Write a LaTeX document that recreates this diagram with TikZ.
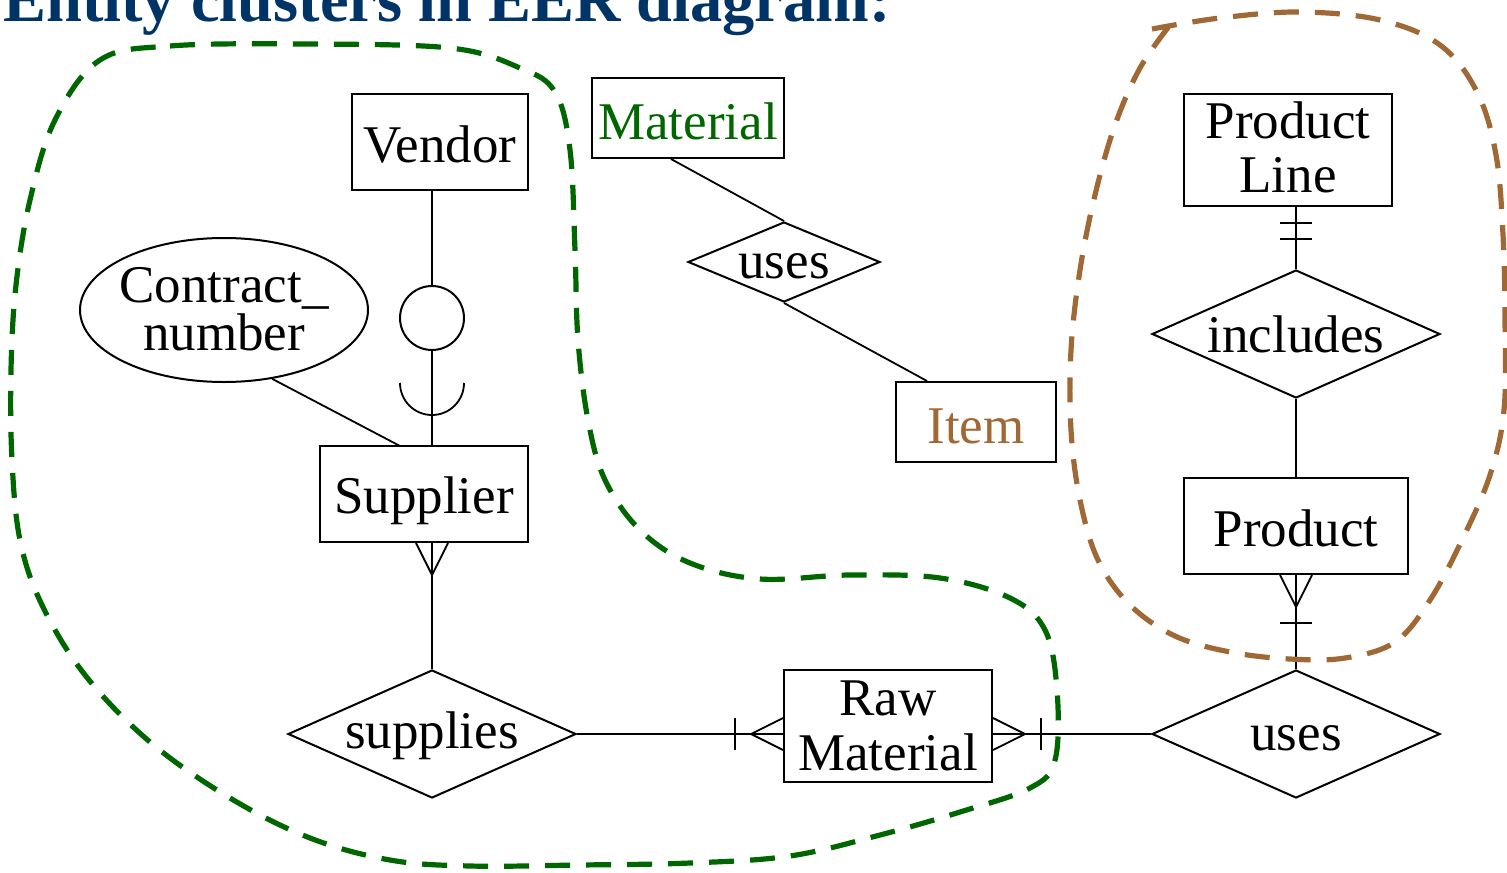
\documentclass[tikz,border=0pt]{standalone}
\usepackage{fontspec}
\setmainfont{Liberation Serif}
\usetikzlibrary{shapes.geometric,calc}
\definecolor{titleblue}{RGB}{0,51,102}
\definecolor{cgreen}{RGB}{0,102,0}
\definecolor{cbrown}{RGB}{160,104,52}
\begin{document}
\begin{tikzpicture}[x=0.5pt,y=-0.5pt,
  ent/.style={draw, line width=1pt, inner sep=0pt},
  rel/.style={draw, diamond, line width=1pt, inner sep=0pt},
  lbl/.style={anchor=base, inner sep=0pt, font=\fontsize{26.5}{26.5}\selectfont},
  conn/.style={line width=0.9pt},
  cluster/.style={line width=2.6pt, dash pattern=on 12.5pt off 8pt}
]
\useasboundingbox (0,0) rectangle (1507,872);

% title
\node[anchor=base west, inner sep=0pt, text=titleblue,
      font=\bfseries\fontsize{32.2}{32.2}\selectfont] (title) at (3,22) {Entity clusters in EER diagram:};

% entity boxes
\node[ent, minimum width=88pt, minimum height=48pt] (vendor) at (440,142) {};
\node[ent, minimum width=96pt, minimum height=40pt] (material) at (688,118) {};
\node[ent, minimum width=80pt, minimum height=40pt] (item) at (976,422) {};
\node[ent, minimum width=104pt, minimum height=48pt] (supp) at (424,494) {};
\node[ent, minimum width=104pt, minimum height=56pt] (raw) at (888,726) {};
\node[ent, minimum width=112pt, minimum height=48pt] (product) at (1296,526) {};
\node[ent, minimum width=104pt, minimum height=56pt] (pline) at (1288,150) {};

% relationships
\node[rel, minimum width=96pt, minimum height=40pt] (uses1) at (784,262) {};
\node[rel, minimum width=144pt, minimum height=64pt] (supplies) at (432,734) {};
\node[rel, minimum width=144pt, minimum height=64pt] (uses2) at (1296,734) {};
\node[rel, minimum width=144pt, minimum height=64pt] (includes) at (1296,334) {};

% attribute
\node[draw, ellipse, line width=1pt, inner sep=0pt, minimum width=144pt, minimum height=72pt] (contract) at (224,310) {};
% subtype circle
\node[draw, circle, line width=1pt, inner sep=0pt, minimum size=32pt] (circ) at (432,318) {};

% labels
\node[lbl] (tvendor) at (440,162) {Vendor};
\node[lbl, text=cgreen] (tmaterial) at (688,140) {Material};
\node[lbl] (tuses1) at (784,278) {uses};
\node[lbl, text=cbrown] (titem) at (976,443) {Item};
\node[lbl] (tcontract1) at (224,302) {Contract\_};
\node[lbl] (tcontract2) at (224,350) {number};
\node[lbl] (tsupp) at (424,513) {Supplier};
\node[lbl] (tsupplies) at (432,748) {supplies};
\node[lbl] (traw1) at (888,715) {Raw};
\node[lbl] (traw2) at (888,770) {Material};
\node[lbl] (tuses2) at (1296,750) {uses};
\node[lbl] (tproduct) at (1296,546) {Product};
\node[lbl] (tincludes) at (1296,352) {includes};
\node[lbl] (tpline1) at (1288,138) {Product};
\node[lbl] (tpline2) at (1288,192) {Line};

% connectors
\draw[conn] (circ.north) -- (circ.north |- vendor.south);
\draw[conn] (circ.south) -- (circ.south |- supp.north);
\coordinate (cupc) at (432,383);
\draw[conn] ($(cupc)+(16pt,0pt)$) arc[start angle=0, end angle=-180, radius=16pt];
\coordinate (sc) at (400,446);
\draw[conn] (contract.-55) -- (sc);

% Supplier - supplies
\coordinate (s1) at (supplies.north |- supp.south);
\draw[conn] (supplies.north) -- (s1);
\draw[conn] ($(s1)+(-16,0)$) -- ($(s1)+(0,32)$) -- ($(s1)+(16,0)$);

% supplies - Raw Material
\coordinate (r1) at (raw.west |- supplies.east);
\draw[conn] (supplies.east) -- (r1);
\draw[conn] ($(r1)+(0,-16)$) -- ($(r1)+(-32,0)$) -- ($(r1)+(0,16)$);
\draw[conn] ($(r1)+(-48,-16)$) -- ($(r1)+(-48,16)$);

% Raw Material - uses
\coordinate (r2) at (raw.east |- uses2.west);
\draw[conn] (r2) -- (uses2.west);
\draw[conn] ($(r2)+(0,-16)$) -- ($(r2)+(32,0)$) -- ($(r2)+(0,16)$);
\draw[conn] ($(r2)+(48,-16)$) -- ($(r2)+(48,16)$);

% Product - uses
\coordinate (p1) at (uses2.north |- product.south);
\draw[conn] (p1) -- (uses2.north);
\draw[conn] ($(p1)+(-16,0)$) -- ($(p1)+(0,32)$) -- ($(p1)+(16,0)$);
\draw[conn] ($(p1)+(-16,48)$) -- ($(p1)+(16,48)$);

% Product Line - includes
\coordinate (pl1) at (includes.north |- pline.south);
\draw[conn] (pl1) -- (includes.north);
\draw[conn] ($(pl1)+(-16,16)$) -- ($(pl1)+(16,16)$);
\draw[conn] ($(pl1)+(-16,32)$) -- ($(pl1)+(16,32)$);

% includes - Product
\draw[conn] (includes.south) -- (includes.south |- product.north);

% Material - uses - Item
\draw[conn] ($(material.south west)+(80,0)$) -- (uses1.north);
\draw[conn] (uses1.south) -- ($(item.north west)+(32,0)$);

% clusters
\draw[cluster, cgreen] plot[smooth cycle, tension=0.6] coordinates {
 (100,60) (170,46) (300,44) (450,48) (520,68) (555,92) (570,150) (575,250)
 (578,340) (588,420) (605,480) (640,530) (690,563) (760,579) (850,575)
 (940,578) (1010,598) (1045,630) (1057,690) (1055,760) (1030,788)
 (960,812) (880,835) (790,856) (690,863) (580,865) (470,866) (390,860)
 (310,838) (230,798) (150,742) (85,675) (42,605) (20,540) (12,460)
 (11,370) (16,285) (30,200) (55,120)};
\draw[cluster, cbrown] plot[smooth, tension=0.6] coordinates {
 (1152,29) (1220,18) (1300,12) (1380,20) (1440,45) (1477,92) (1496,155)
 (1503,235) (1505,320) (1504,410) (1490,475) (1462,540) (1430,600)
 (1395,642) (1345,658) (1290,659) (1230,652) (1175,636) (1130,605)
 (1098,560) (1080,500) (1071,430) (1071,350) (1080,270) (1095,195)
 (1115,125) (1140,68) (1170,25)};
\end{tikzpicture}
\end{document}
